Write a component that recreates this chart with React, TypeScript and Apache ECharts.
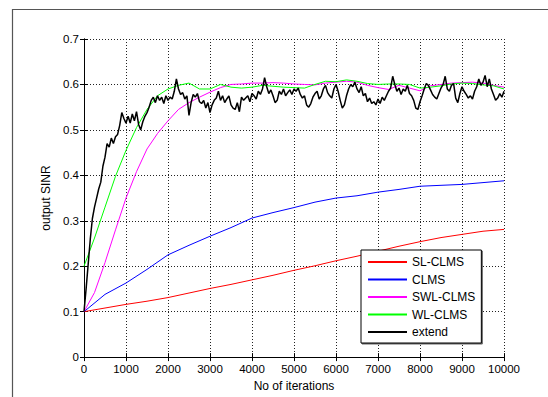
import React, { useEffect, useRef } from "react";
import * as echarts from "echarts";

// Iteration grids used by the series
const iterCoarse: number[] = [0, 500, 1000, 1500, 2000, 2500, 3000, 3500, 4000, 4500, 5000, 5500, 6000, 6500, 7000, 7500, 8000, 8500, 9000, 9500, 10000];
const iterMid: number[] = Array.from({ length: 41 }, (_, i) => i * 250);
const iterFine: number[] = Array.from({ length: 201 }, (_, i) => i * 50);

// SL-CLMS (red) on iterCoarse
const slClms: number[] = [0.100, 0.108, 0.116, 0.123, 0.131, 0.141, 0.151, 0.160, 0.170, 0.180, 0.191, 0.201, 0.212, 0.222, 0.233, 0.244, 0.254, 0.263, 0.270, 0.277, 0.281];

// CLMS (blue) on iterCoarse
const clms: number[] = [0.100, 0.138, 0.163, 0.193, 0.225, 0.246, 0.266, 0.285, 0.306, 0.318, 0.329, 0.341, 0.350, 0.355, 0.363, 0.369, 0.376, 0.378, 0.380, 0.384, 0.388];

// SWL-CLMS (magenta) on iterMid
const swlClms: number[] = [
  0.100, 0.142, 0.208, 0.280, 0.350, 0.408, 0.458, 0.492, 0.520, 0.545,
  0.560, 0.572, 0.583, 0.593, 0.600, 0.601, 0.603, 0.603, 0.604, 0.603,
  0.601, 0.600, 0.599, 0.603, 0.605, 0.607, 0.605, 0.598, 0.593, 0.589,
  0.598, 0.592, 0.586, 0.597, 0.600, 0.603, 0.604, 0.605, 0.603, 0.598,
  0.594,
];

// WL-CLMS (green) on iterMid
const wlClms: number[] = [
  0.200, 0.262, 0.330, 0.398, 0.455, 0.505, 0.545, 0.575, 0.590, 0.598,
  0.603, 0.590, 0.590, 0.600, 0.594, 0.592, 0.594, 0.598, 0.596, 0.594,
  0.593, 0.592, 0.600, 0.607, 0.606, 0.610, 0.607, 0.602, 0.600, 0.601,
  0.601, 0.600, 0.592, 0.594, 0.597, 0.601, 0.603, 0.602, 0.599, 0.597,
  0.590,
];

// extend (black) on iterFine
const extend: number[] = [
  0.100, 0.150, 0.205, 0.260, 0.305, 0.330, 0.350, 0.370, 0.385, 0.420, 0.440, 0.470, 0.462, 0.482, 0.470, 0.485, 0.490, 0.510, 0.538, 0.525,
  0.515, 0.530, 0.515, 0.535, 0.520, 0.540, 0.512, 0.500, 0.518, 0.530, 0.538, 0.550, 0.565, 0.572, 0.560, 0.575, 0.565, 0.572, 0.558, 0.575,
  0.565, 0.572, 0.568, 0.585, 0.612, 0.590, 0.578, 0.582, 0.568, 0.575, 0.532, 0.560, 0.578, 0.572, 0.580, 0.562, 0.558, 0.565, 0.548, 0.560,
  0.538, 0.555, 0.565, 0.570, 0.585, 0.565, 0.575, 0.560, 0.568, 0.575, 0.555, 0.548, 0.545, 0.560, 0.540, 0.572, 0.565, 0.570, 0.575, 0.562,
  0.580, 0.575, 0.568, 0.585, 0.578, 0.590, 0.615, 0.595, 0.580, 0.588, 0.575, 0.560, 0.565, 0.585, 0.578, 0.590, 0.575, 0.582, 0.588, 0.578,
  0.590, 0.585, 0.592, 0.578, 0.570, 0.575, 0.555, 0.550, 0.558, 0.572, 0.580, 0.585, 0.568, 0.575, 0.590, 0.598, 0.582, 0.575, 0.570, 0.590,
  0.600, 0.585, 0.565, 0.548, 0.555, 0.575, 0.590, 0.600, 0.595, 0.605, 0.590, 0.582, 0.595, 0.575, 0.580, 0.562, 0.570, 0.558, 0.562, 0.555,
  0.568, 0.558, 0.572, 0.565, 0.575, 0.585, 0.592, 0.618, 0.600, 0.585, 0.592, 0.578, 0.590, 0.585, 0.598, 0.580, 0.575, 0.565, 0.548, 0.545,
  0.562, 0.575, 0.590, 0.602, 0.598, 0.588, 0.578, 0.572, 0.568, 0.580, 0.592, 0.600, 0.618, 0.590, 0.585, 0.598, 0.602, 0.570, 0.560, 0.580,
  0.595, 0.585, 0.578, 0.570, 0.575, 0.568, 0.585, 0.595, 0.612, 0.598, 0.605, 0.620, 0.595, 0.612, 0.590, 0.578, 0.565, 0.570, 0.580, 0.572,
  0.585,
];

const seriesNames: string[] = ["SL-CLMS", "CLMS", "SWL-CLMS", "WL-CLMS", "extend"];
const seriesColors: string[] = ["#ff0000", "#0000ff", "#ff00ff", "#00ff00", "#000000"];

const zip = (xs: number[], ys: number[]) => ys.map((y, i) => [xs[i], y]);

const FONT = "'Liberation Sans', Arial, Helvetica, sans-serif";

export default function App() {
  const ref = useRef<HTMLDivElement>(null);
  useEffect(() => {
    if (!ref.current) return;
    const chart = echarts.init(ref.current, null, { renderer: "svg" });
    const dataSets = [
      zip(iterCoarse, slClms),
      zip(iterCoarse, clms),
      zip(iterMid, swlClms),
      zip(iterMid, wlClms),
      zip(iterFine, extend),
    ];
    const axisLine = { show: true, lineStyle: { color: "#000", width: 1 } };
    const tick = { show: true, inside: true, length: 4, lineStyle: { color: "#000" } };
    const split = { show: true, lineStyle: { color: "#222", width: 1, type: [1, 2] as any } };
    chart.setOption({
      animation: false,
      backgroundColor: "#fff",
      textStyle: { fontFamily: FONT },
      graphic: [
        {
          type: "rect",
          shape: { x: 12.5, y: 9.5, width: 700, height: 700 },
          style: { fill: "none", stroke: "#555", lineWidth: 1.2 },
          silent: true,
        },
      ],
      grid: { left: 84, top: 39, width: 420, height: 323, containLabel: false },
      xAxis: [
        {
          type: "value",
          position: "bottom",
          min: 0,
          max: 10000,
          interval: 1000,
          axisLine,
          axisTick: tick,
          axisLabel: {
            color: "#000",
            fontSize: 11.5,
            fontFamily: FONT,
            margin: 6,
            formatter: (v: number) => String(v),
          },
          splitLine: split,
          name: "No of iterations",
          nameLocation: "middle",
          nameGap: 20,
          nameTextStyle: { color: "#000", fontSize: 12, fontFamily: FONT },
        },
        {
          type: "value",
          position: "top",
          min: 0,
          max: 10000,
          interval: 1000,
          axisLine,
          axisTick: tick,
          axisLabel: { show: false },
          splitLine: { show: false },
        },
      ],
      yAxis: [
        {
          type: "value",
          position: "left",
          min: 0,
          max: 0.7,
          interval: 0.1,
          axisLine,
          axisTick: tick,
          axisLabel: {
            color: "#000",
            fontSize: 11.5,
            fontFamily: FONT,
            margin: 5,
            formatter: (v: number) => (v === 0 ? "0" : v.toFixed(1)),
          },
          splitLine: split,
          name: "output SINR",
          nameLocation: "middle",
          nameGap: 29,
          nameRotate: 90,
          nameTextStyle: { color: "#000", fontSize: 12, fontFamily: FONT },
        },
        {
          type: "value",
          position: "right",
          min: 0,
          max: 0.7,
          interval: 0.1,
          axisLine,
          axisTick: tick,
          axisLabel: { show: false },
          splitLine: { show: false },
        },
      ],
      legend: {
        orient: "vertical",
        left: 361,
        top: 250,
        data: seriesNames,
        icon: "rect",
        itemWidth: 39,
        itemHeight: 2,
        itemGap: 3.5,
        padding: [5, 6, 4, 7],
        backgroundColor: "#fff",
        borderColor: "#000",
        borderWidth: 1,
        shadowColor: "rgba(0,0,0,0.6)",
        shadowOffsetX: 1,
        shadowOffsetY: 1,
        shadowBlur: 0,
        textStyle: { color: "#000", fontSize: 12, lineHeight: 14, fontFamily: FONT },
      },
      series: seriesNames.map((name, i) => ({
        name,
        type: "line",
        xAxisIndex: 0,
        yAxisIndex: 0,
        data: dataSets[i],
        symbol: "none",
        showSymbol: false,
        color: seriesColors[i],
        lineStyle: { color: seriesColors[i], width: i === 4 ? 1.5 : 1 },
        z: 2 + i,
      })),
    });
    return () => chart.dispose();
  }, []);
  return (
    <div
      ref={ref}
      style={{ position: "fixed", left: 0, top: 0, width: 548, height: 397, background: "#fff" }}
    />
  );
}
